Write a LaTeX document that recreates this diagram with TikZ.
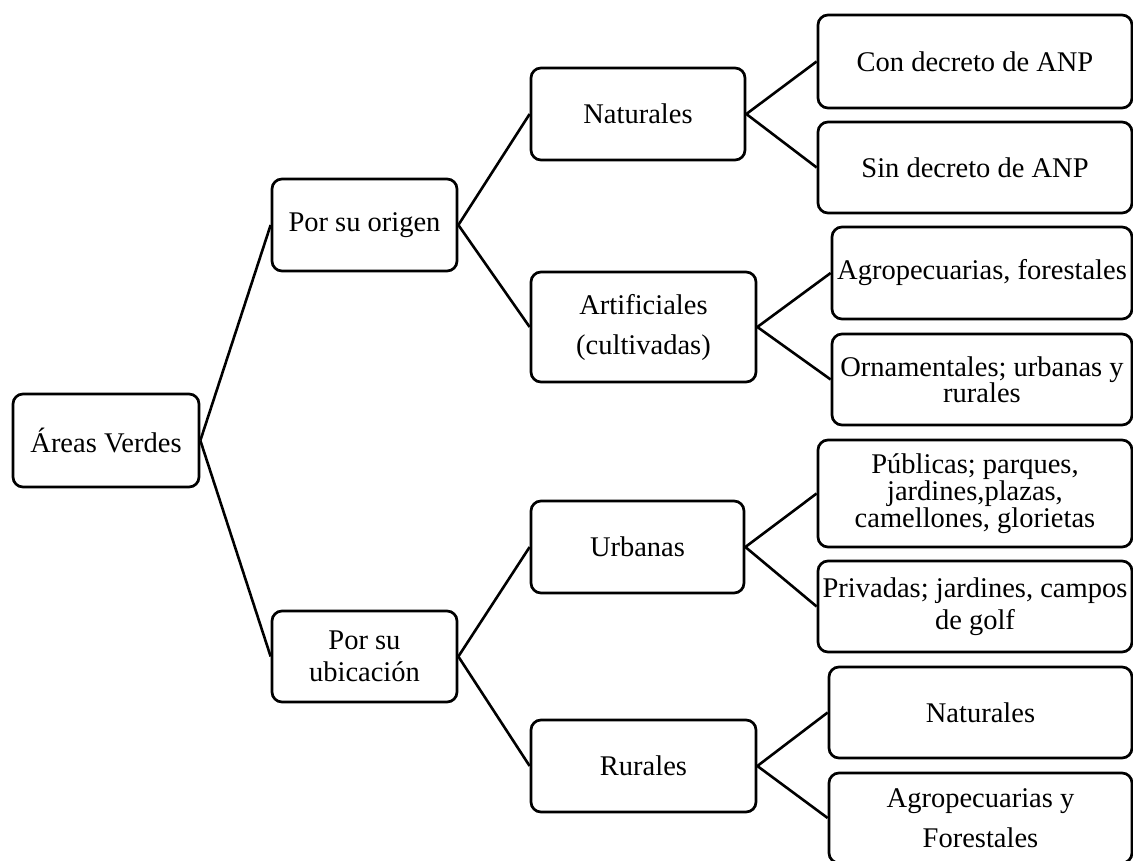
\documentclass[tikz,border=0pt]{standalone}
\usepackage{fontspec}
\setmainfont{Liberation Serif}
\begin{document}
\begin{tikzpicture}[x=1pt,y=-1pt,
  box/.style={draw=black, line width=2.7pt, rounded corners=10pt, fill=white,
    inner sep=0pt, align=center, font=\fontsize{28.5}{32}\selectfont},
  link/.style={draw=black, line width=2.6pt}]
\useasboundingbox (0,0) rectangle (1133,861);
\fill[white] (0,0) rectangle (1133,861);
\clip (0,0) rectangle (1133,861);
% root
\node[box, minimum width=186pt, minimum height=93pt] (av) at (106,440.5) {Áreas Verdes};
% level 1
\node[box, minimum width=185pt, minimum height=92pt] (po) at (364.5,225) {Por su origen};
\node[box, minimum width=185pt, minimum height=91pt] (pu) at (364.5,656.5) {Por su\\ubicación};
% level 2
\node[box, minimum width=214pt, minimum height=92pt] (nat) at (638,114) {Naturales};
\node[box, minimum width=225pt, minimum height=110pt, font=\fontsize{28.5}{40}\selectfont] (art) at (643.5,327) {Artificiales\\(cultivadas)};
\node[box, minimum width=213pt, minimum height=92pt] (urb) at (637.5,547) {Urbanas};
\node[box, minimum width=225pt, minimum height=92pt] (rur) at (643.5,766) {Rurales};
% level 3
\node[box, minimum width=314pt, minimum height=93pt] (cd) at (975,61.5) {Con decreto de ANP};
\node[box, minimum width=314pt, minimum height=91pt] (sd) at (975,167.5) {Sin decreto de ANP};
\node[box, minimum width=300pt, minimum height=92pt] (agf) at (982,273) {Agropecuarias, forestales};
\node[box, minimum width=300pt, minimum height=91pt, font=\fontsize{28.5}{26}\selectfont] (orn) at (982,379.5) {Ornamentales; urbanas y\\rurales};
\node[box, minimum width=314pt, minimum height=107pt, font=\fontsize{28.5}{27}\selectfont] (pub) at (975,493.5) {Públicas; parques,\\jardines,plazas,\\camellones, glorietas};
\node[box, minimum width=314pt, minimum height=91pt] (pri) at (975,606.5) {Privadas; jardines, campos\\de golf};
\node[box, minimum width=303pt, minimum height=91pt] (rnat) at (980.5,712.5) {Naturales};
\node[box, minimum width=303pt, minimum height=90pt, font=\fontsize{28.5}{40}\selectfont] (rag) at (980.5,818) {Agropecuarias y\\Forestales};
% connectors
\draw[link] (av.east) -- (po.west);
\draw[link] (av.east) -- (pu.west);
\draw[link] (po.east) -- (nat.west);
\draw[link] (po.east) -- (art.west);
\draw[link] (pu.east) -- (urb.west);
\draw[link] (pu.east) -- (rur.west);
\draw[link] (nat.east) -- (cd.west);
\draw[link] (nat.east) -- (sd.west);
\draw[link] (art.east) -- (agf.west);
\draw[link] (art.east) -- (orn.west);
\draw[link] (urb.east) -- (pub.west);
\draw[link] (urb.east) -- (pri.west);
\draw[link] (rur.east) -- (rnat.west);
\draw[link] (rur.east) -- (rag.west);
\end{tikzpicture}
\end{document}
